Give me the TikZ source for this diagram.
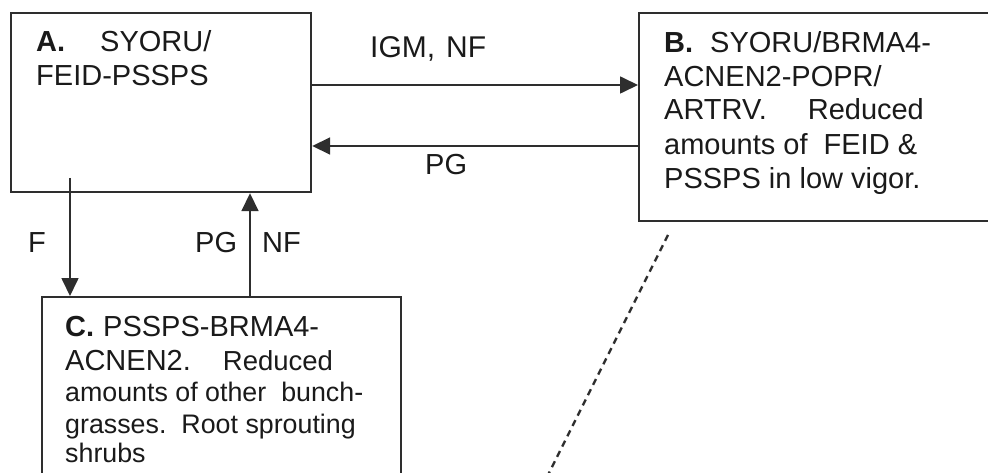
\documentclass[tikz,border=0pt]{standalone}
\usepackage{fontspec}
\setmainfont{Liberation Sans}
\usetikzlibrary{arrows.meta}
\definecolor{linec}{HTML}{2E2E2E}
\definecolor{txtc}{HTML}{1A1A1A}
\begin{document}
\begin{tikzpicture}[x=1pt,y=-1pt,
  box/.style={draw=linec, line width=2.2pt, inner sep=0pt, anchor=north west},
  txt/.style={font=\fontsize{29}{34}\selectfont, text=txtc, inner sep=0pt, anchor=base west},
  smalltxt/.style={txt, font=\fontsize{26.8}{32}\selectfont},
  arr/.style={draw=linec, line width=1.7pt, -{Triangle[length=18pt,width=17pt]}},
  dashline/.style={draw=linec, line width=2.4pt, dash pattern=on 6.5pt off 5pt}]
\clip (0,0) rectangle (988,473);
\fill[white] (0,0) rectangle (988,473);
% boxes
\node[box, minimum width=300pt, minimum height=179pt] (A) at (10,12) {};
\node[box, minimum width=400pt, minimum height=208pt] (B) at (638,12) {};
\node[box, minimum width=359pt, minimum height=250pt] (C) at (41,296) {};
% box texts
\node[txt] (a1) at (36,52) {\textbf{A.}\hspace{35pt}SYORU/};
\node[txt] (a2) at (36,86) {FEID-PSSPS};
\node[txt] (b1) at (664,53) {\textbf{B.}\hspace{17pt}SYORU/BRMA4-};
\node[txt] (b2) at (664,86.5) {ACNEN2-POPR/};
\node[txt] (b3) at (664,120) {ARTRV.\hspace{41pt}Reduced};
\node[txt] (b4) at (664,155) {amounts of\hspace{16pt}FEID \&};
\node[txt] (b5) at (664,189) {PSSPS in low vigor.};
\node[txt] (c1) at (65,336) {\textbf{C.}\hspace{9pt}PSSPS-BRMA4-};
\node[txt] (c2) at (65,370) {ACNEN2.\hspace{32pt}{\fontsize{27.5}{32}\selectfont Reduced}};
\node[smalltxt] (c3) at (65,401) {amounts of other\hspace{15pt}bunch-};
\node[smalltxt] (c4) at (65,433) {grasses.\hspace{15pt}Root sprouting};
\node[smalltxt] (c5) at (65,462) {shrubs};
% connectors
\coordinate (yAB) at (0,85);
\coordinate (yBA) at (0,146);
\draw[arr] (A.east |- yAB) -- (B.west |- yAB);
\draw[arr] (B.west |- yBA) -- (A.east |- yBA);
\coordinate (fstart) at (70,178);
\draw[arr] (fstart) -- (fstart |- C.north);
\coordinate (pgx) at (250,0);
\draw[arr] (pgx |- C.north) -- (pgx |- A.south);
\coordinate (d1) at (668,235);
\coordinate (d2) at (535.5,500);
\draw[dashline] (d1) -- (d2);
% labels
\node[txt, font=\fontsize{30}{34}\selectfont] (l1) at (370,58) {IGM,\hspace{11pt}NF};
\node[txt] (l2) at (425,175) {PG};
\node[txt] (l3) at (28,252) {F};
\node[txt] (l4) at (195,252) {PG};
\node[txt] (l5) at (262,252) {NF};
\end{tikzpicture}
\end{document}
